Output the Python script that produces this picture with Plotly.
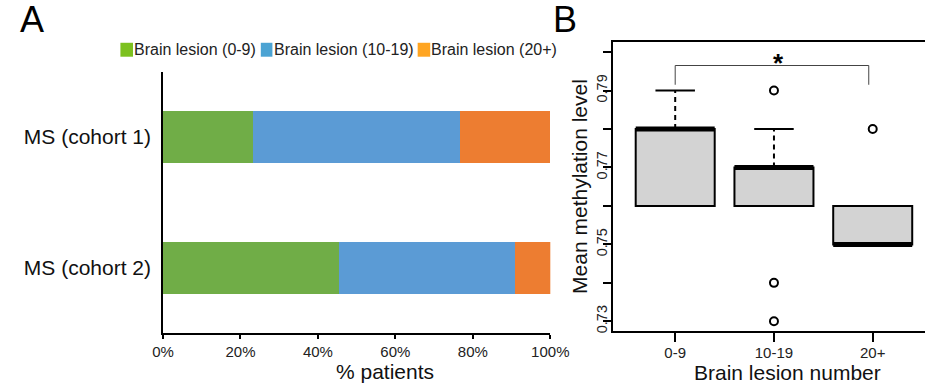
import plotly.graph_objects as go

# ---------------- data ----------------
cohorts = ["MS (cohort 2)", "MS (cohort 1)"]
series_names = ["Brain lesion (0-9)", "Brain lesion (10-19)", "Brain lesion (20+)"]
pct_0_9 = [45.5, 23.3]
pct_10_19 = [45.5, 53.4]
pct_20p = [9.1, 23.3]
bar_colors = ["#70ad47", "#5b9bd5", "#ed7d31"]
legend_colors = ["#7cc11f", "#4ba3d3", "#ffa522"]
pct_ticks = [0, 20, 40, 60, 80, 100]
pct_ticktext = ["0%", "20%", "40%", "60%", "80%", "100%"]

groups = ["0-9", "10-19", "20+"]
group_pos = [1, 2, 3]
q1 = [0.76, 0.76, 0.75]
median = [0.78, 0.77, 0.75]
q3 = [0.78, 0.77, 0.76]
lower_whisker = [0.76, 0.76, 0.75]
upper_whisker = [0.79, 0.78, 0.76]
outlier_x = [2, 2, 2, 3]
outlier_y = [0.79, 0.74, 0.73, 0.78]
y_ticks = [0.73, 0.74, 0.75, 0.76, 0.77, 0.78, 0.79, 0.80]
y_ticktext = ["0.73", "", "0.75", "", "0.77", "", "0.79", ""]
sig_pair = [1, 2.96]
sig_low, sig_high = 0.7915, 0.7965

W, H = 944, 389
FONT = "Liberation Sans, Arial, sans-serif"


def px(x):
    return x / W


def py(y):
    return 1 - y / H


fig = go.Figure()

# ---------------- panel A ----------------
for name, vals, col in zip(series_names, [pct_0_9, pct_10_19, pct_20p], bar_colors):
    fig.add_trace(go.Bar(
        y=cohorts, x=vals, name=name, orientation="h",
        marker=dict(color=col, line=dict(width=0)),
        width=0.4, showlegend=False, xaxis="x", yaxis="y",
    ))

# ---------------- panel B ----------------
fig.add_trace(go.Box(
    x=group_pos, q1=q1, median=median, q3=q3,
    lowerfence=q1, upperfence=q3,
    width=0.8, whiskerwidth=0, boxpoints=False,
    fillcolor="#d3d3d3", line=dict(color="black", width=2),
    showlegend=False, xaxis="x2", yaxis="y2", hoverinfo="skip",
))

# whiskers (dashed) and caps
wx, wy, cx, cy = [], [], [], []
for p, lo, hi, a, b in zip(group_pos, q1, q3, lower_whisker, upper_whisker):
    if b > hi:
        wx += [p, p, None]; wy += [hi, b, None]
        cx += [p - 0.2, p + 0.2, None]; cy += [b, b, None]
    if a < lo:
        wx += [p, p, None]; wy += [lo, a, None]
        cx += [p - 0.2, p + 0.2, None]; cy += [a, a, None]
fig.add_trace(go.Scatter(x=wx, y=wy, mode="lines",
                         line=dict(color="black", width=2, dash="5px,4px"),
                         showlegend=False, xaxis="x2", yaxis="y2", hoverinfo="skip"))
fig.add_trace(go.Scatter(x=cx, y=cy, mode="lines",
                         line=dict(color="black", width=2),
                         showlegend=False, xaxis="x2", yaxis="y2", hoverinfo="skip"))

# thick medians
mx, my = [], []
for p, m in zip(group_pos, median):
    mx += [p - 0.4, p + 0.4, None]; my += [m, m, None]
fig.add_trace(go.Scatter(x=mx, y=my, mode="lines",
                         line=dict(color="black", width=5),
                         showlegend=False, xaxis="x2", yaxis="y2", hoverinfo="skip"))

# outliers
fig.add_trace(go.Scatter(x=outlier_x, y=outlier_y, mode="markers",
                         marker=dict(symbol="circle-open", size=8, color="black",
                                     line=dict(width=2, color="black")),
                         showlegend=False, xaxis="x2", yaxis="y2", hoverinfo="skip"))

# significance bracket
fig.add_trace(go.Scatter(x=[sig_pair[0], sig_pair[0], sig_pair[1], sig_pair[1]],
                         y=[sig_low, sig_high, sig_high, sig_low], mode="lines",
                         line=dict(color="#444444", width=1),
                         showlegend=False, xaxis="x2", yaxis="y2", hoverinfo="skip"))

annotations = [
    dict(text="A", x=px(7), y=py(20), xref="paper", yref="paper", xanchor="left",
         yanchor="middle", showarrow=False, font=dict(size=36, color="black", family=FONT)),
    dict(text="B", x=px(558), y=py(20), xref="paper", yref="paper", xanchor="left",
         yanchor="middle", showarrow=False, font=dict(size=36, color="black", family=FONT)),
    dict(text="% patients", x=px(386), y=py(373), xref="paper", yref="paper",
         xanchor="center", yanchor="middle", showarrow=False,
         font=dict(size=21, color="#111", family=FONT)),
    dict(text="Brain lesion number", x=px(802), y=py(374), xref="paper", yref="paper",
         xanchor="center", yanchor="middle", showarrow=False,
         font=dict(size=21, color="#111", family=FONT)),
    dict(text="Mean methylation level", x=px(587), y=py(187.5), xref="paper", yref="paper",
         xanchor="center", yanchor="middle", textangle=-90, showarrow=False,
         font=dict(size=21, color="#111", family=FONT)),
    dict(text="<b>*</b>", x=2.05, y=0.7972, xref="x2", yref="y2",
         xanchor="center", yanchor="middle", showarrow=False,
         font=dict(size=26, color="black", family=FONT)),
]

# manual legend
shapes = []
leg_sq = [(113, 126), (258, 270), (420, 433)]
leg_tx = [125, 270, 432]
for (x0, x1), tx, col, name in zip(leg_sq, leg_tx, legend_colors, series_names):
    shapes.append(dict(type="rect", xref="paper", yref="paper",
                       x0=px(x0), x1=px(x1), y0=py(57), y1=py(43),
                       fillcolor=col, line=dict(width=0)))
    annotations.append(dict(text=name, x=px(tx), y=py(50), xref="paper", yref="paper",
                            xanchor="left", yanchor="middle", showarrow=False,
                            font=dict(size=16, color="#222", family=FONT)))

fig.update_layout(
    width=W, height=H, margin=dict(l=0, r=0, t=0, b=0),
    paper_bgcolor="white", plot_bgcolor="white",
    barmode="stack", showlegend=False,
    font=dict(family=FONT, color="#222"),
    xaxis=dict(domain=[px(157), px(557)], range=[0, 100], tickvals=pct_ticks,
               ticktext=pct_ticktext, ticks="outside", ticklen=4, tickwidth=1.5,
               tickcolor="black",
               showline=True, linecolor="black", linewidth=1.5, showgrid=False, zeroline=False,
               tickfont=dict(size=15, color="#222"), anchor="y", fixedrange=True),
    yaxis=dict(domain=[py(335), py(72)], range=[-0.5, 1.5], type="category",
               categoryorder="array", categoryarray=cohorts,
               showline=True, linecolor="black", linewidth=1.5, showgrid=False, zeroline=False,
               ticks="", ticklabelstandoff=6, tickfont=dict(size=21, color="#111"),
               anchor="x", fixedrange=True),
    xaxis2=dict(domain=[px(622), 1.0], range=[0.3725, 3.5294], tickvals=group_pos,
                ticktext=groups, ticks="outside", ticklen=9, tickwidth=1.5, tickcolor="black",
                showline=True, mirror=True, linecolor="black", linewidth=1.5,
                showgrid=False, zeroline=False, tickfont=dict(size=15, color="#222"),
                ticklabelstandoff=-2, anchor="y2", fixedrange=True),
    yaxis2=dict(domain=[py(333), py(42)], range=[0.72741, 0.80267], tickvals=y_ticks,
                ticktext=y_ticktext, tickangle=-90, ticks="outside", ticklen=8, tickwidth=1.5,
                tickcolor="black", showline=True, linecolor="black", linewidth=1.5,
                showgrid=False, zeroline=False, tickfont=dict(size=14.5, color="#222"),
                ticklabelstandoff=-9, anchor="x2", fixedrange=True),
    annotations=annotations, shapes=shapes,
)

fig.write_html("out.html")
